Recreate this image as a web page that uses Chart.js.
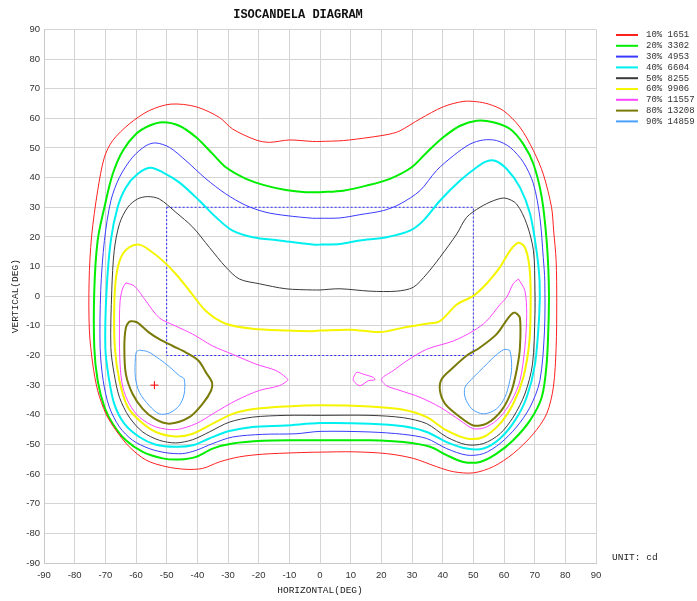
<!DOCTYPE html>
<html>
<head>
<meta charset="utf-8">
<title>Isocandela Diagram</title>
<script src="https://cdn.jsdelivr.net/npm/chart.js@4.4.1/dist/chart.umd.min.js"></script>
<style>
  html, body { margin: 0; padding: 0; background: #fff; }
  #wrap { width: 697px; height: 601px; }
</style>
</head>
<body>
<div id="wrap"><canvas id="iso-chart"></canvas></div>
<script>
// Legend entries: percentage of peak and candela value
var levelPercents = ['10%', '20%', '30%', '40%', '50%', '60%', '70%', '80%', '90%'];
var levelCandela = [1651, 3302, 4953, 6604, 8255, 9906, 11557, 13208, 14859];

// Contour outlines, [horizontal deg, vertical deg]
var level10 = [[0,52.2],[-2.4,52.2],[-10,52.7],[-16.5,51.9],[-20.9,52.7],[-28.5,56.4],[-32.8,60.3],[-40.4,63.9],[-48.6,64.8],[-55.7,62.6],[-62.2,58.1],[-67.6,52.5],[-70.3,46.9],[-72.5,35.6],[-74.5,20],[-75.3,5],[-75.2,-11.7],[-74.1,-22.9],[-72.5,-31.8],[-69.8,-39.7],[-66.5,-45.3],[-62.2,-50.8],[-56.7,-55.3],[-50.2,-57.5],[-43.7,-58.4],[-38.3,-58.1],[-32.8,-55.9],[-26.3,-54.2],[-18.7,-53.3],[-7.8,-52.8],[0,-52.6],[10.9,-52.5],[21.7,-53.1],[30.4,-54.7],[38,-57.5],[43.5,-59.2],[50,-59.6],[56.5,-57.5],[63,-53.1],[69.6,-46.4],[73.9,-39.7],[76.1,-30.7],[77,-17.3],[77.2,-2],[77,12],[76.2,22],[75.5,30],[72.8,41.2],[69.6,49.1],[65.2,57],[59.8,62.6],[55,64.8],[51.1,65.6],[46.7,65.7],[40.2,63.9],[32.6,59.8],[26.1,55.8],[22.8,54.7],[16.3,53.6],[7.6,52.5],[0,52.2]];
var level20 = [[0,35.1],[-4.6,35.1],[-11.1,35.8],[-17.6,37.3],[-24.1,39.6],[-30.7,43.5],[-35,48],[-40.4,53.6],[-45.9,57.5],[-51.3,58.7],[-55.7,57.5],[-60,54.7],[-64.3,49.1],[-67.6,41.2],[-70.3,30],[-72.5,18.8],[-73.6,1.9],[-73.6,-17.3],[-72.5,-28.5],[-70.3,-37.4],[-67.6,-43],[-63.3,-48.6],[-57.8,-52.5],[-51.3,-54.7],[-45.9,-55.1],[-40.4,-54.2],[-35,-51.4],[-28.5,-49.7],[-18.7,-48.8],[-7.8,-48.6],[0,-48.6],[16.3,-48.6],[27.2,-49.2],[35.9,-50.8],[41.3,-53.6],[46.7,-55.9],[52.2,-55.9],[57.6,-53.1],[63,-48.6],[68.5,-41.9],[72.3,-34.1],[73.9,-22.9],[74.6,-6.1],[74.6,5],[73.9,18.8],[72.3,33.4],[69.6,44.6],[66.3,51.3],[62,56.4],[56.5,58.7],[51.1,59.2],[45.7,57.5],[40.2,53.6],[34.8,48.5],[29.9,43.5],[22.8,39.6],[15.2,37.3],[7.6,35.6],[0,35.1]];
var level30 = [[0,26.3],[-2.4,26.3],[-11.1,27.2],[-17.6,28.3],[-24.1,30.6],[-30.7,34.5],[-37.2,39.6],[-43.7,45.7],[-49.1,50.2],[-53.5,51.7],[-56.7,50.8],[-61.1,46.9],[-65.4,40.1],[-68.2,32.2],[-70.3,18.8],[-71.5,1.9],[-71.7,-17.3],[-70.7,-28.5],[-68.7,-37.4],[-65.4,-44.1],[-61.1,-48.6],[-55.7,-51.4],[-50.2,-52.8],[-44.8,-53.1],[-40.4,-52],[-35,-49.7],[-28.5,-47.5],[-18.7,-46.6],[-7.8,-46.4],[0,-45.6],[16.3,-45.8],[27.2,-46.6],[34.8,-48],[41.3,-51.4],[47.8,-53.6],[53.3,-53.1],[58.7,-49.7],[64.1,-44.1],[68.5,-37.4],[71.7,-28.5],[73.2,-11.7],[73.3,5],[72.8,13.1],[71.7,26.6],[69.6,37.9],[66.3,45.2],[62,50.2],[57.6,52.5],[53.3,52.7],[48.9,51.3],[43.5,47.4],[38,42.4],[32.6,35.6],[26.1,31.1],[20.7,28.9],[13,27.5],[6.5,26.4],[0,26.3]];
var level40 = [[0,17.4],[-2.4,17.4],[-13.3,18.8],[-21.9,19.9],[-28.5,22.1],[-33.9,26.6],[-39.3,32.2],[-45.9,38.4],[-51.3,41.8],[-55.4,43.3],[-59.5,41.2],[-63.3,36.7],[-66,30],[-68.2,18.8],[-69.6,1.9],[-70,-17.3],[-68.9,-27.4],[-67.1,-36.3],[-63.8,-43],[-58.9,-47.5],[-53.5,-50.1],[-47,-50.8],[-41.5,-50.3],[-36.1,-48],[-29.6,-45.5],[-22,-44.1],[-11.1,-43.6],[0,-42.8],[16.3,-43],[27.2,-43.9],[34.8,-45.8],[41.3,-49.2],[47.8,-51.4],[53.3,-51.4],[58.7,-48],[63.6,-41.9],[67.4,-34.1],[70.1,-22.9],[71.5,-6.1],[71.6,5],[70.6,15.4],[68.5,27.8],[65.2,36.7],[60.9,42.9],[57.1,45.7],[54.3,45.5],[51.1,43.5],[45.7,39],[39.1,32.2],[33.7,25.5],[29.3,22.1],[21.7,19.9],[13,18.8],[6.5,17.6],[0,17.4]];
var level50 = [[0,2.1],[-2.4,2.1],[-11.1,2.5],[-19.8,4.2],[-26.3,5.8],[-30.7,9.8],[-36.1,16.5],[-41.5,23.3],[-47,28.3],[-52.4,32.8],[-56.2,33.6],[-59.5,32.8],[-62.7,30],[-65.4,24.4],[-67.1,15.4],[-67.9,1.9],[-68.2,-17.3],[-67.1,-26.3],[-65.4,-34.1],[-62.2,-40.8],[-57.8,-45.8],[-52.4,-48.6],[-47,-49.5],[-41.5,-48.4],[-36.1,-45.8],[-29.6,-42.5],[-22,-40.8],[-11.1,-40.2],[0,-40.2],[16.3,-40.2],[27.2,-41],[34.8,-43],[41.3,-47.5],[47.8,-50.1],[53.3,-49.7],[58.7,-46.4],[63,-40.8],[66.8,-33],[69.3,-22.9],[70.1,-6.1],[70.1,1.9],[69.6,15.4],[67.4,24.4],[64.1,31.1],[60.3,33.1],[56.5,32.2],[52.2,30],[47.8,26.6],[44.6,21],[39.1,13.1],[34.8,7.5],[30.4,3],[25,1.7],[16.3,1.7],[6.5,2.5],[0,2.1]];
var level60 = [[0,-11.6],[-2.4,-11.8],[-11.1,-11.6],[-22,-11],[-30.7,-9.3],[-37.2,-5],[-42.6,1.9],[-47,7.5],[-51.3,12],[-55.7,15.6],[-58.9,17.4],[-62.2,16.5],[-64.9,13.1],[-66.5,6.4],[-67.1,-3.7],[-66.9,-17.3],[-65.4,-28.5],[-62.7,-37.4],[-58.9,-41.9],[-53.5,-45.8],[-47,-47.3],[-41.5,-46.4],[-35,-43],[-28.5,-39.7],[-20.9,-38],[-11.1,-37.2],[0,-36.8],[16.3,-37.2],[27.2,-38.3],[34.8,-40.8],[41.3,-45.3],[47.8,-48],[53.3,-47.5],[58.7,-43],[63,-36.3],[66.3,-27.4],[68.3,-15.1],[68.7,-0.3],[68.3,9.8],[66.8,16.5],[64.7,18],[62,15.4],[58.7,9.8],[54.3,4.2],[50,0.1],[44.6,-2.8],[39.1,-8.4],[34.8,-9.3],[27.2,-10.6],[19.6,-12.1],[9.8,-11.3],[0,-11.6]];
var level70Left = [[-63.3,4.5],[-60.5,3.4],[-56.7,-1.7],[-52.4,-7.3],[-47,-10.1],[-41.5,-12.8],[-35,-16.8],[-28.5,-19.6],[-20.9,-22.9],[-14.3,-25.1],[-11.1,-27.4],[-10.5,-28.3],[-13.3,-30.2],[-19.8,-31.8],[-27.4,-35.2],[-35,-39.7],[-40.4,-43],[-47,-45],[-53.5,-44.1],[-58.9,-40.8],[-62.2,-36.3],[-64.3,-30.7],[-65.2,-22.9],[-65.4,-11.7],[-65.2,-1.7],[-64.3,2.8],[-63.3,4.5]];
var level70Right = [[64.7,5.8],[66.8,1.9],[67.4,-6.1],[66.8,-17.3],[65.2,-28.5],[62.5,-35.2],[58.7,-40.8],[54.3,-44.1],[50,-44.7],[45.7,-41.9],[39.1,-37.4],[32.6,-34.1],[26.1,-31.8],[21.7,-30.2],[20.1,-27.9],[23.9,-25.1],[28.3,-21.8],[34.8,-17.9],[43.5,-15.1],[50,-11.7],[54.3,-8.4],[58.7,-2.8],[60.9,-0.3],[63,4.2],[64.7,5.8]];
var level70Island = [[10.9,-27.4],[12,-25.7],[14.1,-26.3],[17.4,-27.4],[17.9,-28.2],[15.8,-28.5],[13,-30.2],[10.9,-28.5],[10.9,-27.4]];
var level80Left = [[-61.1,-8.4],[-59.5,-8.9],[-55.7,-12.3],[-52.4,-14.5],[-48,-16.8],[-43.7,-19],[-39.6,-21.8],[-37.2,-25.7],[-35.2,-29.1],[-35.5,-31.8],[-38.3,-36.3],[-42.6,-40.8],[-49.1,-43],[-54,-41.3],[-57.8,-38],[-61.1,-33],[-63.3,-26.3],[-63.8,-17.3],[-63.3,-10.6],[-62.2,-8.6],[-61.1,-8.4]];
var level80Right = [[63.9,-5.6],[65.2,-7.3],[65.2,-17.3],[64.3,-24],[62.5,-31.8],[59.2,-38.5],[54.3,-43],[50,-43.6],[45.7,-40.8],[40.8,-36.3],[39.1,-31.8],[39.7,-27.9],[43.5,-24],[47.8,-20.1],[52.2,-17.3],[57.6,-12.8],[61.4,-7.3],[63,-5.6],[63.9,-5.6]];
var level90Left = [[-58.9,-18.2],[-56.2,-18.7],[-52.4,-21.2],[-49.1,-23.8],[-45.9,-26.8],[-44.3,-27.9],[-44.3,-33],[-45.9,-36.9],[-49.1,-39.4],[-52.4,-39.7],[-55.7,-36.9],[-58.9,-32.4],[-60.2,-27.4],[-60.2,-20.7],[-59.8,-18.7],[-58.9,-18.2]];
var level90Right = [[60.3,-17.9],[61.9,-18.4],[62.5,-24],[61.9,-28.5],[60.3,-34.1],[57.6,-38],[53.3,-39.7],[49.5,-38],[47.3,-34.1],[47.3,-30.7],[50,-27.4],[53.3,-24],[56.5,-20.7],[59.2,-18.4],[60.3,-17.9]];

// Peak intensity location and the dotted reference zone
var peakPoint = [[-54, -30]];
var zoneBox = [[-50, 30], [50, 30], [50, -20], [-50, -20], [-50, 30]];

var levelColors = ['#ff2020', '#00ee00', '#3a3aff', '#00f0f0', '#3a3a3a', '#f5f500', '#ff44ff', '#7a7a08', '#4aa0ff'];
var levelWidths = [1, 2, 1, 2, 1, 2, 1, 2, 1];

var MONO = '"Liberation Mono", "Courier New", monospace';
var SANS = '"Liberation Sans", Arial, sans-serif';

function toPoints(arr) {
    return arr.map(function (p) { return { x: p[0], y: p[1] }; });
}

function contour(arr, level) {
    return {
        label: levelPercents[level] + ' ' + levelCandela[level],
        data: toPoints(arr),
        showLine: true,
        borderColor: levelColors[level],
        backgroundColor: levelColors[level],
        borderWidth: levelWidths[level],
        pointRadius: 0,
        tension: 0.3,
        fill: false
    };
}

var datasets = [
    contour(level10, 0),
    contour(level20, 1),
    contour(level30, 2),
    contour(level40, 3),
    contour(level50, 4),
    contour(level60, 5),
    contour(level70Left, 6),
    contour(level70Right, 6),
    contour(level70Island, 6),
    contour(level80Left, 7),
    contour(level80Right, 7),
    contour(level90Left, 8),
    contour(level90Right, 8),
    {
        label: 'zone',
        data: toPoints(zoneBox),
        showLine: true,
        borderColor: '#3030ff',
        borderWidth: 1,
        borderDash: [2, 2],
        pointRadius: 0,
        tension: 0
    },
    {
        label: 'peak',
        data: toPoints(peakPoint),
        showLine: false,
        pointStyle: 'cross',
        pointRadius: 4,
        borderColor: '#ff0000',
        borderWidth: 1
    }
];

// Legend on the right plus the unit note
var sideNotes = {
    id: 'sideNotes',
    afterDraw: function (chart) {
        var ctx = chart.ctx;
        ctx.save();
        ctx.font = '9px ' + MONO;
        ctx.textBaseline = 'middle';
        ctx.textAlign = 'left';
        for (var i = 0; i < levelPercents.length; i++) {
            var y = 35 + i * 10.8;
            ctx.strokeStyle = levelColors[i];
            ctx.lineWidth = 2;
            ctx.beginPath();
            ctx.moveTo(616, y);
            ctx.lineTo(638, y);
            ctx.stroke();
            ctx.fillStyle = '#333';
            ctx.fillText(levelPercents[i] + ' ' + levelCandela[i], 646, y);
        }
        ctx.font = '9.5px ' + MONO;
        ctx.fillStyle = '#222';
        ctx.fillText('UNIT: cd', 612, 557);
        ctx.restore();
    }
};

new Chart(document.getElementById('iso-chart'), {
    type: 'scatter',
    data: { datasets: datasets },
    plugins: [sideNotes],
    options: {
        responsive: true,
        maintainAspectRatio: false,
        animation: false,
        layout: { padding: { left: 0, right: 101, top: 0, bottom: 0 } },
        plugins: {
            legend: { display: false },
            tooltip: { enabled: false },
            title: {
                display: true,
                text: 'ISOCANDELA DIAGRAM',
                color: '#111',
                font: { family: MONO, size: 12, weight: 'bold' },
                padding: { top: 8, bottom: 7 }
            }
        },
        scales: {
            x: {
                type: 'linear',
                min: -90,
                max: 90,
                afterFit: function (s) { s.height = 38; },
                ticks: {
                    stepSize: 10,
                    color: '#333',
                    padding: 7,
                    maxRotation: 0,
                    font: { family: SANS, size: 9.5 }
                },
                grid: { color: '#d4d4d4', drawTicks: false },
                border: { color: '#c8c8c8' },
                title: {
                    display: true,
                    text: 'HORIZONTAL(DEG)',
                    color: '#222',
                    font: { family: MONO, size: 9.5 },
                    padding: { top: 2, bottom: 5 }
                }
            },
            y: {
                type: 'linear',
                min: -90,
                max: 90,
                afterFit: function (s) { s.width = 44; },
                ticks: {
                    stepSize: 10,
                    color: '#333',
                    padding: 4,
                    font: { family: SANS, size: 9.5 }
                },
                grid: { color: '#d4d4d4', drawTicks: false },
                border: { color: '#c8c8c8' },
                title: {
                    display: true,
                    text: 'VERTICAL(DEG)',
                    color: '#222',
                    font: { family: MONO, size: 9.5 },
                    padding: { top: 10, bottom: 0 }
                }
            }
        }
    }
});
</script>
</body>
</html>
